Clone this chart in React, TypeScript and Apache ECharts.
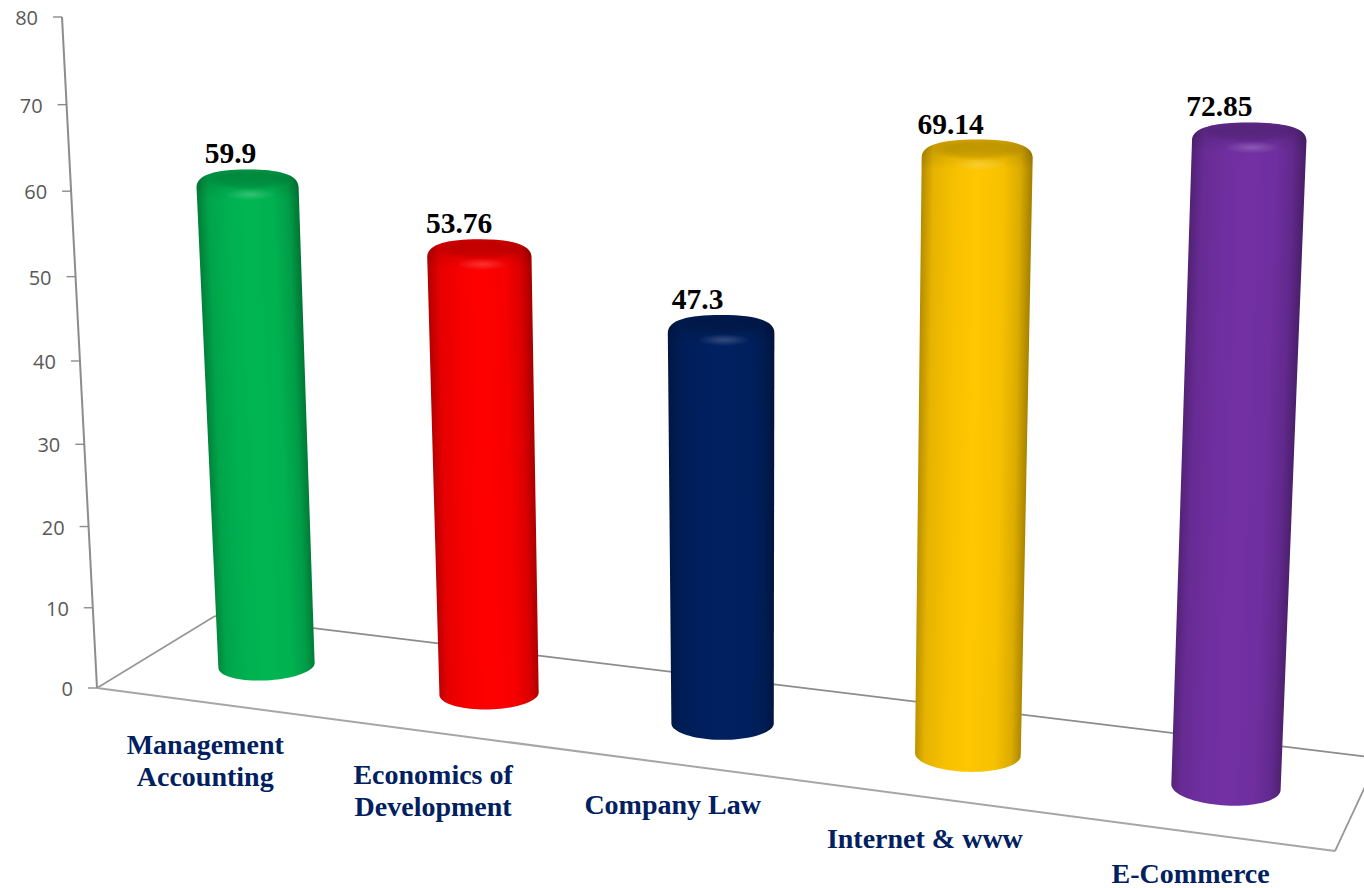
import React, { useEffect, useRef } from "react";
import * as echarts from "echarts";

const categories = ["Management\nAccounting", "Economics of\nDevelopment", "Company Law", "Internet & www", "E-Commerce"];
const scores = [59.9, 53.76, 47.3, 69.14, 72.85];
const scoreLabels = ["59.9", "53.76", "47.3", "69.14", "72.85"];
const tickValues = [0, 10, 20, 30, 40, 50, 60, 70, 80];
const tickLabels = ["0", "10", "20", "30", "40", "50", "60", "70", "80"];
const barColors = ["#00b652", "#ff0000", "#002060", "#ffc700", "#7230a4"];

const W = 1364;
const H = 888;

// Perspective camera: (across, depth, height) in 0..1 to screen pixels
const camX = [1077.8, 132.75, -38.06, 97];
const camY = [60.9, -29.7, -671.84, 688];
const camW = [-0.12, 0.0686, -0.0494, 1];
const BAR_DEPTH = 0.49;
const BAR_SHIFT_U = 0.0022;
const RADIUS_U = 0.043;
const RADIUS_D = 0.2;

function project(u: number, d: number, v: number): [number, number] {
  const w = camW[0] * u + camW[1] * d + camW[2] * v + camW[3];
  return [
    (camX[0] * u + camX[1] * d + camX[2] * v + camX[3]) / w,
    (camY[0] * u + camY[1] * d + camY[2] * v + camY[3]) / w,
  ];
}

function toPlane(p: number[]): [number, number] {
  return [p[0] / W, 1 - p[1] / H];
}

function shade(hex: string, k: number): string {
  const n = parseInt(hex.slice(1), 16);
  const f = (c: number) => Math.min(255, Math.round(c * k));
  return `rgb(${f((n >> 16) & 255)},${f((n >> 8) & 255)},${f(n & 255)})`;
}

const frameLine = (a: number[], b: number[], stroke: string, width: number) => ({
  type: "line",
  shape: { x1: a[0], y1: a[1], x2: b[0], y2: b[1] },
  style: { stroke, lineWidth: width },
  silent: true,
});

function renderFrame() {
  const p00 = project(0, 0, 0);
  const p10 = project(1, 0, 0);
  const p01 = project(0, 1, 0);
  const p11 = project(1, 1, 0);
  const top = project(0, 0, 1);
  return {
    type: "group",
    children: [
      frameLine(p00, p01, "#969696", 1.6),
      frameLine(p01, p11, "#8c8c8c", 1.8),
      frameLine(p11, p10, "#969696", 1.8),
      frameLine(p00, p10, "#a6a6a6", 2),
      frameLine(p00, top, "#8c8c8c", 2),
    ],
  };
}

function renderTick(_params: any, api: any) {
  const index = api.value(0);
  const [, v] = toPlane(api.coord([0, api.value(1)]));
  const [x, y] = project(0, 0, v);
  return {
    type: "group",
    children: [
      frameLine([x - 9, y], [x, y], "#8c8c8c", 1.4),
      {
        type: "text",
        x: x - 24,
        y: y + 0.5,
        style: {
          text: tickLabels[index],
          fill: "#595959",
          fontFamily: "Open Sans",
          fontSize: 20,
          align: "right",
          verticalAlign: "middle",
        },
      },
    ],
  };
}

function renderBar(_params: any, api: any) {
  const i = api.value(0);
  const color = barColors[i];
  const [u0, v] = toPlane(api.coord([i, api.value(1)]));
  const uc = u0 + BAR_SHIFT_U;
  const baseScale = 1.039 - 0.0875 * uc;
  const topScale = 1.068 - 0.126 * uc;

  const [xC, yC] = project(uc, BAR_DEPTH, v);
  const [bx, by] = project(uc, BAR_DEPTH, 0);
  const rx = (project(uc + RADIUS_U, BAR_DEPTH, v)[0] - project(uc - RADIUS_U, BAR_DEPTH, v)[0]) / 2 * topScale;
  const brx = (project(uc + RADIUS_U, BAR_DEPTH, 0)[0] - project(uc - RADIUS_U, BAR_DEPTH, 0)[0]) / 2 * baseScale;
  const bry = project(uc, BAR_DEPTH - RADIUS_D, 0)[1] - by;
  const tilt = (uc - 0.5) * 0.125;

  const capTop = yC - 10;
  const shoulder = yC + 8;
  const tlx = xC - rx;
  const trx = xC + rx;

  const capCurve =
    `M${tlx} ${shoulder}` +
    `C${tlx} ${shoulder - 13} ${xC - rx * 0.62} ${capTop} ${xC} ${capTop}` +
    `C${xC + rx * 0.62} ${capTop} ${trx} ${shoulder - 13} ${trx} ${shoulder}`;

  let d = capCurve;
  const steps = 40;
  for (let s = 0; s <= steps; s++) {
    const t = (Math.PI * s) / steps;
    const dx = brx * Math.cos(t);
    d += `L${bx + dx} ${by + bry * Math.sin(t) + tilt * dx}`;
  }
  d += "Z";

  // Shading bands follow the lean of the cylinder
  const ax = xC - bx;
  const ay = yC - by;
  const len = Math.hypot(ax, ay);
  const nx = -ay / len;
  const ny = ax / len;
  const mx = (xC + bx) / 2;
  const my = (yC + by) / 2;
  const R = (rx + brx) / 2;

  const labelX = xC - 17 - (uc - 0.1) * 16;

  return {
    type: "group",
    children: [
      {
        type: "path",
        shape: { pathData: d },
        style: {
          fill: {
            type: "linear",
            global: true,
            x: mx - nx * R,
            y: my - ny * R,
            x2: mx + nx * R,
            y2: my + ny * R,
            colorStops: [
              { offset: 0, color: shade(color, 0.72) },
              { offset: 0.1, color: shade(color, 0.9) },
              { offset: 0.3, color: shade(color, 0.97) },
              { offset: 0.5, color: color },
              { offset: 0.75, color: shade(color, 0.97) },
              { offset: 0.9, color: shade(color, 0.86) },
              { offset: 1, color: shade(color, 0.66) },
            ],
          },
        },
      },
      {
        type: "path",
        shape: { pathData: `${capCurve}L${trx} ${shoulder + 12}L${tlx} ${shoulder + 12}Z` },
        style: {
          fill: {
            type: "linear",
            x: 0,
            y: 0,
            x2: 0,
            y2: 1,
            colorStops: [
              { offset: 0, color: "rgba(0,0,0,0.16)" },
              { offset: 0.55, color: "rgba(0,0,0,0.08)" },
              { offset: 1, color: "rgba(0,0,0,0)" },
            ],
          },
        },
      },
      {
        type: "ellipse",
        shape: { cx: xC + 2, cy: capTop + 10, rx: rx * 0.86, ry: 11 },
        style: {
          fill: {
            type: "radial",
            x: 0.5,
            y: 0.5,
            r: 0.5,
            colorStops: [
              { offset: 0, color: "rgba(0,0,0,0.14)" },
              { offset: 0.6, color: "rgba(0,0,0,0.11)" },
              { offset: 1, color: "rgba(0,0,0,0)" },
            ],
          },
        },
      },
      {
        type: "ellipse",
        shape: { cx: xC + 3, cy: capTop + 25, rx: rx * 0.5, ry: 6 },
        style: {
          fill: {
            type: "radial",
            x: 0.5,
            y: 0.5,
            r: 0.5,
            colorStops: [
              { offset: 0, color: "rgba(255,255,255,0.2)" },
              { offset: 1, color: "rgba(255,255,255,0)" },
            ],
          },
        },
      },
      {
        type: "text",
        x: labelX,
        y: capTop - 16,
        style: {
          text: scoreLabels[i],
          fill: "#000000",
          fontFamily: "Liberation Serif",
          fontWeight: "bold",
          fontSize: 29.5,
          align: "center",
          verticalAlign: "middle",
        },
      },
    ],
  };
}

function renderCategory(_params: any, api: any) {
  const i = api.value(0);
  const [uc] = toPlane(api.coord([i, 0]));
  const [x, y] = project(uc, 0, 0);
  const twoLines = categories[i].includes("\n");
  return {
    type: "text",
    x: x - 1.6 - 4.4 * uc,
    y: y + (twoLines ? 26 : 28.5),
    style: {
      text: categories[i],
      fill: "#002060",
      fontFamily: "Liberation Serif",
      fontWeight: "bold",
      fontSize: 28,
      lineHeight: twoLines ? 32 : 24,
      align: "center",
      verticalAlign: "top",
    },
  };
}

export default function App() {
  const ref = useRef<HTMLDivElement>(null);
  useEffect(() => {
    const chart = echarts.init(ref.current!, null, { renderer: "svg" });
    chart.setOption({
      animation: false,
      backgroundColor: "#ffffff",
      grid: { left: 0, right: 0, top: 0, bottom: 0 },
      xAxis: { type: "category", data: categories, show: false },
      yAxis: { type: "value", min: 0, max: 80, interval: 10, show: false },
      series: [
        { type: "custom", silent: true, z: 1, renderItem: renderFrame, data: [[0, 0]] },
        { type: "custom", silent: true, z: 2, renderItem: renderTick, data: tickValues.map((t, i) => [i, t]) },
        { type: "custom", silent: true, z: 3, renderItem: renderBar, data: scores.map((s, i) => [i, s]) },
        { type: "custom", silent: true, z: 4, renderItem: renderCategory, data: categories.map((_, i) => [i, 0]) },
      ],
    });
    return () => chart.dispose();
  }, []);
  return <div ref={ref} style={{ position: "fixed", left: 0, top: 0, width: W, height: H }} />;
}
